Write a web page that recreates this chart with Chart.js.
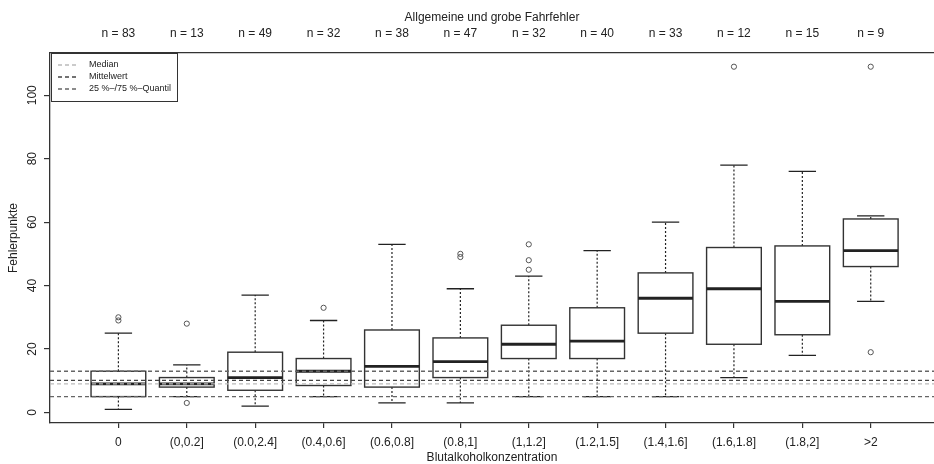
<!DOCTYPE html>
<html>
<head>
<meta charset="utf-8">
<title>Fehlerpunkte nach Blutalkoholkonzentration</title>
<script src="https://cdn.jsdelivr.net/npm/chart.js@4/dist/chart.umd.min.js"></script>
<style>
    html, body { margin: 0; padding: 0; background: #fff; overflow: hidden; }
</style>
</head>
<body>
<canvas id="chart" width="934" height="464"></canvas>
<script>
// ===============================
// DATA (Fehlerpunkte je BAK-Klasse)
// ===============================
const categories = ["0", "(0,0.2]", "(0.0,2.4]", "(0.4,0.6]", "(0.6,0.8]", "(0.8,1]",
    "(1,1.2]", "(1.2,1.5]", "(1.4,1.6]", "(1.6,1.8]", "(1.8,2]", ">2"];
const groupSizes = [83, 13, 49, 32, 38, 47, 32, 40, 33, 12, 15, 9];

const whiskerLow  = [1, 5, 2, 5, 3, 3, 5, 5, 5, 11, 18, 35];
const quartile1   = [5, 8, 7, 8.5, 8, 11, 17, 17, 25, 21.5, 24.5, 46];
const medians     = [9, 9, 11, 13, 14.5, 16, 21.5, 22.5, 36, 39, 35, 51];
const quartile3   = [13, 11, 19, 17, 26, 23.5, 27.5, 33, 44, 52, 52.5, 61];
const whiskerHigh = [25, 15, 37, 29, 53, 39, 43, 51, 60, 78, 76, 62];
const outliers = [[29, 30], [3, 28], [], [33], [], [49, 50], [45, 48, 53], [], [], [109], [], [19, 109]];

const yTicks = [0, 20, 40, 60, 80, 100];

// reference lines from the sober group
const refQuantiles = [5, 13];
const refMean = 10.1;
const refMedian = 9;

const legendItems = [
    { label: "Median", color: "#bbbbbb" },
    { label: "Mittelwert", color: "#444444" },
    { label: "25 %\u2013/75 %\u2013Quantil", color: "#666666" }
];

const FONT = "'Liberation Sans', Arial, sans-serif";
const INK = "#222";
const FRAME = "#333";

Chart.defaults.font.family = FONT;
Chart.defaults.color = INK;

// scatter points for the outliers
const outlierPoints = [];
outliers.forEach((list, i) => {
    list.forEach(v => outlierPoints.push({ x: i + 1, y: v }));
});

const categoryTicks = scale => {
    scale.ticks = categories.map((c, i) => ({ value: i + 1 }));
};

// ===============================
// BOXES, WHISKERS, REFERENCE LINES
// ===============================
const boxPlugin = {
    id: "boxes",
    beforeDatasetsDraw(chart) {
        const { ctx, scales: { x, y } } = chart;
        const half = (x.getPixelForValue(1) - x.getPixelForValue(0)) * 0.4;

        ctx.save();
        categories.forEach((c, i) => {
            const cx = x.getPixelForValue(i + 1);
            const top = y.getPixelForValue(quartile3[i]);
            const bot = y.getPixelForValue(quartile1[i]);
            const hi = y.getPixelForValue(whiskerHigh[i]);
            const lo = y.getPixelForValue(whiskerLow[i]);
            const med = y.getPixelForValue(medians[i]);

            // dotted whiskers
            ctx.strokeStyle = INK;
            ctx.lineWidth = 1.2;
            ctx.setLineDash([2, 2]);
            ctx.beginPath();
            ctx.moveTo(cx, top); ctx.lineTo(cx, hi);
            ctx.moveTo(cx, bot); ctx.lineTo(cx, lo);
            ctx.stroke();
            ctx.setLineDash([]);

            // staples
            ctx.lineWidth = 1.3;
            ctx.beginPath();
            ctx.moveTo(cx - half / 2, hi); ctx.lineTo(cx + half / 2, hi);
            ctx.moveTo(cx - half / 2, lo); ctx.lineTo(cx + half / 2, lo);
            ctx.stroke();

            // box
            ctx.fillStyle = "#fff";
            ctx.fillRect(cx - half, top, half * 2, bot - top);
            ctx.strokeStyle = FRAME;
            ctx.lineWidth = 1.4;
            ctx.strokeRect(cx - half, top, half * 2, bot - top);

            // median
            ctx.strokeStyle = INK;
            ctx.lineWidth = 2.8;
            ctx.beginPath();
            ctx.moveTo(cx - half, med); ctx.lineTo(cx + half, med);
            ctx.stroke();
        });
        ctx.restore();
    },
    afterDatasetsDraw(chart) {
        const { ctx, chartArea: area, scales: { y } } = chart;

        const hline = (v, color) => {
            const py = y.getPixelForValue(v);
            ctx.strokeStyle = color;
            ctx.beginPath();
            ctx.moveTo(area.left, py);
            ctx.lineTo(area.right, py);
            ctx.stroke();
        };

        ctx.save();
        ctx.lineWidth = 1.3;
        ctx.setLineDash([4, 3]);
        hline(refMedian, legendItems[0].color);
        hline(refMean, legendItems[1].color);
        refQuantiles.forEach(v => hline(v, legendItems[2].color));
        ctx.setLineDash([]);

        // legend box top left
        const lx = area.left + 1, ly = area.top;
        ctx.fillStyle = "#fff";
        ctx.fillRect(lx, ly, 126, 48);
        ctx.strokeStyle = FRAME;
        ctx.lineWidth = 1;
        ctx.strokeRect(lx + 0.5, ly + 0.5, 126, 48);

        ctx.font = "9px " + FONT;
        ctx.textBaseline = "middle";
        ctx.textAlign = "left";
        legendItems.forEach((item, i) => {
            const ry = ly + 12 + i * 12;
            ctx.strokeStyle = item.color;
            ctx.lineWidth = 1.3;
            ctx.setLineDash([4, 3]);
            ctx.beginPath();
            ctx.moveTo(lx + 7, ry);
            ctx.lineTo(lx + 25, ry);
            ctx.stroke();
            ctx.setLineDash([]);
            ctx.fillStyle = INK;
            ctx.fillText(item.label, lx + 38, ry);
        });
        ctx.restore();
    }
};

// ===============================
// CHART
// ===============================
const X_MAX = 12.925;

new Chart(document.getElementById("chart"), {
    type: "scatter",
    data: {
        datasets: [{
            label: "Ausreißer",
            data: outlierPoints,
            pointRadius: 2.6,
            pointBorderWidth: 1,
            pointBorderColor: "#555",
            pointBackgroundColor: "rgba(0,0,0,0)"
        }]
    },
    options: {
        responsive: false,
        devicePixelRatio: 1,
        animation: false,
        layout: { padding: 0, autoPadding: false },
        plugins: {
            legend: { display: false },
            tooltip: { enabled: false }
        },
        scales: {
            x: {
                type: "linear",
                position: "bottom",
                min: 0,
                max: X_MAX,
                afterBuildTicks: categoryTicks,
                afterFit: s => { s.height = 41; },
                ticks: {
                    autoSkip: false,
                    maxRotation: 0,
                    padding: 7,
                    font: { size: 12 },
                    callback: v => categories[v - 1]
                },
                grid: { drawOnChartArea: false, tickLength: 5, color: FRAME, lineWidth: 1.2 },
                border: { color: FRAME, width: 1.3 },
                title: {
                    display: true,
                    text: "Blutalkoholkonzentration",
                    font: { size: 12, lineHeight: 1 },
                    padding: 0
                }
            },
            x2: {
                type: "linear",
                position: "top",
                min: 0,
                max: X_MAX,
                afterBuildTicks: categoryTicks,
                afterFit: s => { s.height = 53; },
                ticks: {
                    autoSkip: false,
                    maxRotation: 0,
                    padding: 12.5,
                    font: { size: 12 },
                    callback: v => "n = " + groupSizes[v - 1]
                },
                grid: { display: false, drawTicks: false },
                border: { display: true, color: FRAME, width: 1.3 },
                title: {
                    display: true,
                    text: "Allgemeine und grobe Fahrfehler",
                    font: { size: 12 },
                    padding: { top: 10.8, bottom: 0 }
                }
            },
            y: {
                type: "linear",
                position: "left",
                min: -3.32,
                max: 113.32,
                afterBuildTicks: s => { s.ticks = yTicks.map(v => ({ value: v })); },
                afterFit: s => { s.width = 50; },
                ticks: {
                    minRotation: 90,
                    maxRotation: 90,
                    crossAlign: "center",
                    padding: 1,
                    font: { size: 12 }
                },
                grid: { drawOnChartArea: false, tickLength: 6, color: FRAME, lineWidth: 1.2 },
                border: { color: FRAME, width: 1.3 },
                title: {
                    display: true,
                    text: "Fehlerpunkte",
                    font: { size: 12 },
                    padding: { top: 6, bottom: 0 }
                }
            }
        }
    },
    plugins: [boxPlugin]
});
</script>
</body>
</html>
